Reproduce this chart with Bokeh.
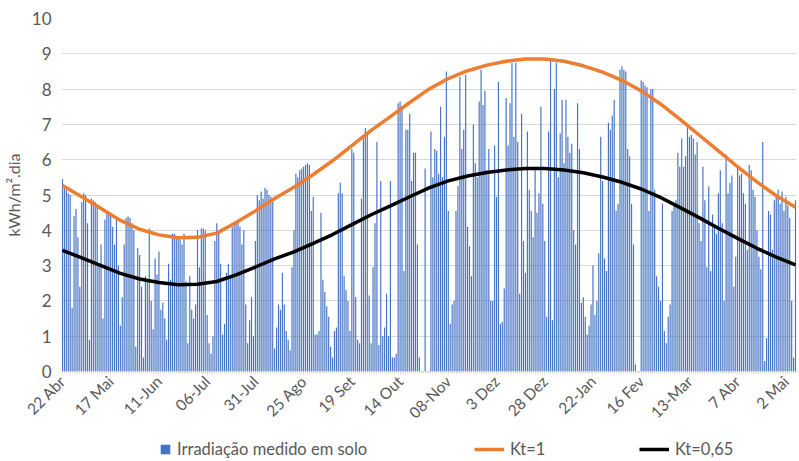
from math import pi
from bokeh.plotting import figure
from bokeh.layouts import column
from bokeh.models import Range1d, FixedTicker, Legend, LegendItem
from bokeh.embed import file_html
from bokeh.resources import INLINE

# ---- data -------------------------------------------------------------
tick_labels = ["22 Abr", "17 Mai", "11-Jun", "06-Jul", "31-Jul", "25 Ago", "19 Set",
               "14 Out", "08-Nov", "3 Dez", "28 Dez", "22-Jan", "16 Fev", "13-Mar",
               "7 Abr", "2 Mai"]
tick_step_days = 25

irr_a = [5.45, 5.2, 5.15, 5.05, 5.0, 1.8, 4.4, 4.6, 3.8, 2.4, 4.8, 5.05, 5.0, 4.2, 0.9, 4.9,
         4.85, 4.8, 4.7, 3.0, 3.6, 1.5, 4.3, 4.55, 4.5, 4.45, 4.1, 3.6, 4.35, 3.0, 1.3, 2.1]
irr_b = [3.6, 4.35, 4.4, 4.35, 4.2, 4.0, 0.7, 3.5, 3.3, 2.4, 0.4, 2.7, 2.6, 4.05, 2.0, 1.2,
         3.2, 2.75, 3.4, 1.75, 1.95, 1.5, 0.9, 3.05, 2.6, 3.9, 3.9, 3.8, 3.8, 3.75, 3.6]
irr_c = [3.9, 2.55, 0.8, 2.7, 1.75, 1.5, 1.9, 4.0, 2.95, 4.05, 4.05, 4.0, 1.6, 0.8, 0.5, 1.0,
         3.7, 4.2, 3.95, 3.05, 1.05, 1.35, 2.8, 3.05, 2.7, 4.1, 4.15, 4.2, 4.25, 4.1, 3.6, 4.0]
irr_d = [1.9, 0.8, 1.45, 2.1, 1.0, 3.7, 5.0, 4.85, 5.1, 4.9, 5.2, 5.15, 5.0, 4.95, 4.8, 0.65,
         1.25, 1.9, 1.75, 2.8, 1.9, 1.15, 0.9, 0.6, 2.95, 4.0, 5.6, 5.5, 5.7, 5.75, 5.8, 5.85]
irr_e = [5.9, 5.85, 4.55, 4.95, 1.05, 1.05, 1.15, 4.5, 2.6, 2.25, 1.85, 1.55, 0.7, 0.4, 1.15,
         1.25, 5.05, 5.35, 5.05, 2.7, 2.3, 2.0, 1.15, 6.3, 6.2, 2.1, 0.9, 0.8, 4.9, 6.6, 6.9, 6.7]
irr_f = [2.15, 0.8, 2.95, 4.2, 6.5, 0.75, 5.4, 1.0, 1.25, 2.2, 1.0, 5.4, 0.4, 0.4, 0.5, 7.6,
         7.65, 7.5, 2.85, 6.85, 6.85, 7.3, 5.4, 6.2, 6.2, 3.6, 0.4, 0.0, 0.0, 5.75, 0.0, 0.0]
irr_g = [6.8, 5.5, 6.3, 6.25, 5.6, 7.5, 5.5, 6.65, 8.5, 4.55, 1.35, 1.9, 2.0, 4.55, 5.25, 8.35,
         6.3, 6.85, 8.4, 4.1, 3.55, 2.7, 7.0, 5.9, 5.5, 7.65, 8.55, 7.55, 7.95, 5.7, 6.3, 2.0]
irr_h = [2.0, 6.4, 4.95, 8.2, 1.35, 1.4, 2.35, 7.75, 6.4, 7.6, 8.75, 6.65, 8.75, 6.5, 2.2, 7.3,
         3.7, 2.8, 6.8, 5.15, 4.55, 3.8, 5.8, 4.5, 5.05, 7.5, 4.75, 3.7, 1.55, 6.8, 8.8, 1.45]
irr_i = [8.0, 8.75, 5.5, 6.75, 7.7, 5.9, 7.7, 6.65, 6.2, 6.45, 4.0, 3.6, 7.6, 6.3, 1.95, 2.1,
         1.55, 1.05, 1.3, 1.9, 3.0, 1.6, 2.0, 3.35, 6.65, 5.4, 3.2, 2.85, 7.05, 6.85, 7.25, 7.7]
irr_j = [4.55, 4.75, 8.55, 8.65, 8.55, 8.5, 6.3, 6.1, 4.75, 3.6, 0.2, 0.0, 0.0, 8.25, 8.2, 8.1,
         8.05, 4.55, 8.0, 8.0, 5.15, 2.7, 2.4, 2.0, 4.75, 1.15, 0.8, 1.55, 1.9, 4.55, 4.75, 4.85]
irr_k = [6.2, 5.8, 6.6, 5.8, 6.1, 7.0, 6.65, 6.7, 6.6, 6.15, 6.5, 4.2, 3.7, 5.8, 4.85, 2.95,
         5.25, 2.85, 4.45, 4.1, 3.9, 5.05, 5.7, 4.2, 2.0, 6.15, 5.05, 5.35, 5.55, 2.4, 3.25, 5.8]
irr_l = [5.55, 5.6, 5.05, 4.75, 3.45, 5.85, 5.7, 5.15, 4.95, 4.0, 3.25, 2.9, 6.5, 0.3, 0.95,
         4.55, 4.45, 3.45, 4.85, 4.95, 5.15, 4.75, 5.1, 4.55, 4.95, 4.7, 4.35, 2.0, 0.4, 4.85]

# curves read every 10 days
curve_days = list(range(0, 381, 10))
kt1 = [5.27, 4.95, 4.62, 4.28, 4.03, 3.87, 3.79, 3.8, 3.92, 4.22, 4.55, 4.9, 5.22, 5.58,
       5.97, 6.4, 6.83, 7.22, 7.62, 8.0, 8.3, 8.52, 8.68, 8.79, 8.85, 8.85, 8.79, 8.66,
       8.48, 8.25, 7.95, 7.58, 7.15, 6.7, 6.25, 5.8, 5.37, 4.98, 4.65]
kt065 = [3.43, 3.22, 3.0, 2.78, 2.62, 2.52, 2.46, 2.47, 2.55, 2.74, 2.96, 3.19, 3.39, 3.63,
         3.88, 4.16, 4.44, 4.69, 4.95, 5.2, 5.4, 5.54, 5.64, 5.71, 5.75, 5.75, 5.71, 5.63,
         5.51, 5.36, 5.17, 4.93, 4.65, 4.36, 4.06, 3.77, 3.49, 3.24, 3.02]

series_labels = ["Irradiação medido em solo", "Kt=1", "Kt=0,65"]

irr = irr_a + irr_b + irr_c + irr_d + irr_e + irr_f + irr_g + irr_h + irr_i + irr_j + irr_k + irr_l
days = list(range(len(irr)))

# ---- styling ----------------------------------------------------------
FONT = "Lato"
GREY = "#595959"
BLUE = "#4472C4"
ORANGE = "#ED7D31"
BLACK = "#000000"
W = 799
H_MAIN = 436
H_LEG = 25

p = figure(width=W, height=H_MAIN, x_range=Range1d(-0.5, len(irr) - 0.5),
           y_range=Range1d(0, 10), output_backend="svg", toolbar_location=None,
           min_border_left=60, min_border_right=3, min_border_top=18, min_border_bottom=65)
p.outline_line_color = None
p.background_fill_color = "white"

p.vbar(x=days, top=irr, width=0.6, fill_color=BLUE, line_color=None)
p.line(curve_days, kt1, line_color=ORANGE, line_width=3.5)
p.line(curve_days, kt065, line_color=BLACK, line_width=3.5)

major = [i * tick_step_days for i in range(len(tick_labels))]
p.xaxis.ticker = FixedTicker(ticks=major, minor_ticks=days)
p.xaxis.major_label_overrides = {t: lab for t, lab in zip(major, tick_labels)}
p.xaxis.major_label_orientation = pi / 4
p.xaxis.axis_line_color = "#d9d9d9"
p.xaxis.major_tick_line_color = "#d9d9d9"
p.xaxis.minor_tick_line_color = "#d9d9d9"
p.xaxis.major_tick_in = 0
p.xaxis.major_tick_out = 3
p.xaxis.minor_tick_in = 0
p.xaxis.minor_tick_out = 2
p.xaxis.major_label_text_font = FONT
p.xaxis.major_label_text_font_size = "15.5px"
p.xaxis.major_label_text_color = GREY
p.xaxis.major_label_standoff = 4

p.yaxis.ticker = FixedTicker(ticks=list(range(0, 11)))
p.yaxis.axis_line_color = None
p.yaxis.major_tick_line_color = None
p.yaxis.minor_tick_line_color = None
p.yaxis.major_label_text_font = FONT
p.yaxis.major_label_text_font_size = "17px"
p.yaxis.major_label_text_color = GREY
p.yaxis.major_label_standoff = 4
p.yaxis.axis_label = "kWh/m².dia"
p.yaxis.axis_label_text_font = FONT
p.yaxis.axis_label_text_font_size = "16px"
p.yaxis.axis_label_text_font_style = "normal"
p.yaxis.axis_label_text_color = GREY
p.yaxis.axis_label_standoff = 6

p.xgrid.grid_line_color = None
p.ygrid.grid_line_color = "#d9d9d9"
p.ygrid.ticker = FixedTicker(ticks=list(range(0, 11)))

# ---- legend strip (frame aligned with the chart frame above) -----------
lg = figure(width=W, height=H_LEG, x_range=Range1d(0, W), y_range=Range1d(0, H_LEG),
            output_backend="svg", toolbar_location=None,
            min_border_left=0, min_border_right=0, min_border_top=0, min_border_bottom=0)
lg.axis.visible = False
lg.grid.visible = False
lg.outline_line_color = None
r_bar = lg.vbar(x=[-100], top=[-100], width=1, fill_color=BLUE, line_color=None)
r_o = lg.line([-100, -99], [-100, -100], line_color=ORANGE, line_width=3.5)
r_k = lg.line([-100, -99], [-100, -100], line_color=BLACK, line_width=3.5)


def mk_legend(label, rend, x, gw, gh):
    lgd = Legend(items=[LegendItem(label=label, renderers=[rend])], location=(x, 2))
    lgd.glyph_width = gw
    lgd.glyph_height = gh
    lgd.padding = 0
    lgd.margin = 0
    lgd.label_standoff = 6
    lgd.label_height = 20
    lgd.label_text_font = FONT
    lgd.label_text_font_size = "16.5px"
    lgd.label_text_color = GREY
    lgd.border_line_color = None
    lgd.background_fill_alpha = 0
    lgd.label_text_baseline = "middle"
    return lgd


lg.add_layout(mk_legend(series_labels[0], r_bar, 98, 12, 12), "center")
lg.add_layout(mk_legend(series_labels[1], r_o, 413, 30, 20), "center")
lg.add_layout(mk_legend(series_labels[2], r_k, 578, 30, 20), "center")

layout = column(p, lg, spacing=0)
open("out.html", "w").write(file_html(layout, INLINE))
